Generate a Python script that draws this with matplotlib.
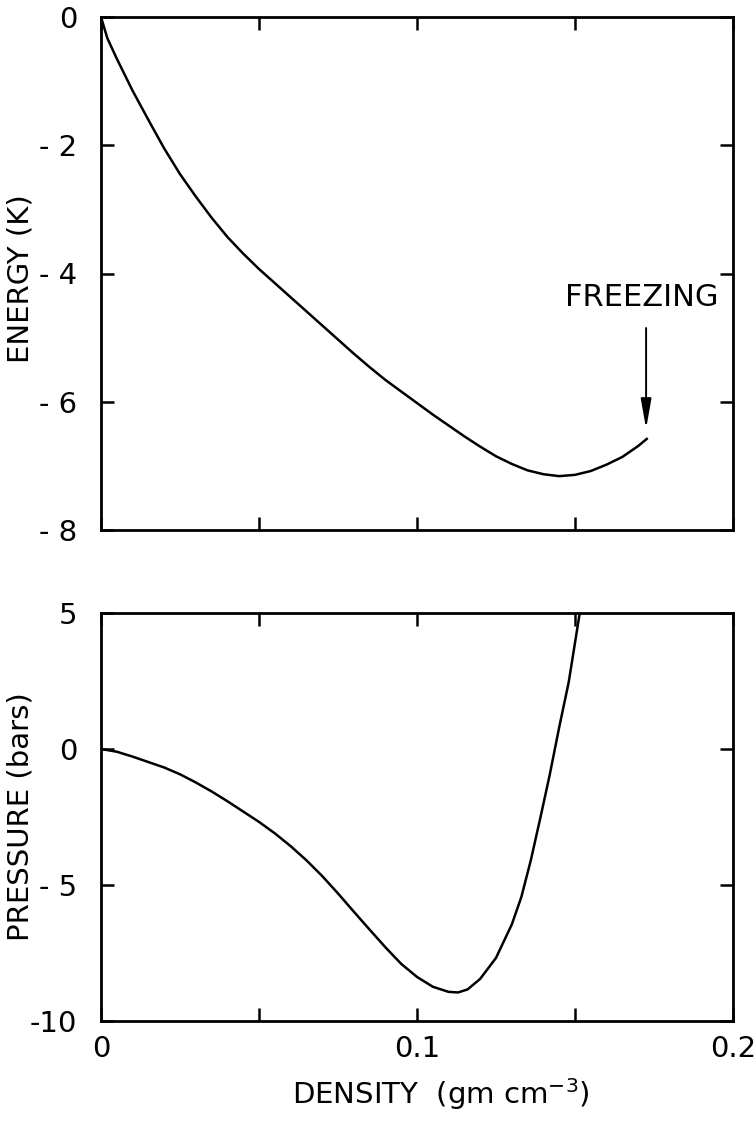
import matplotlib
matplotlib.use("Agg")
import matplotlib.pyplot as plt

plt.rcParams['font.family'] = ['DejaVu Sans']
plt.rcParams['mathtext.default'] = 'regular'

# Energy vs density
rho_E = [0.0, 0.002, 0.005, 0.010, 0.0155, 0.020, 0.025, 0.030, 0.035, 0.040,
         0.045, 0.050, 0.055, 0.060, 0.065, 0.070, 0.075, 0.080, 0.085, 0.090,
         0.095, 0.100, 0.105, 0.110, 0.115, 0.120, 0.125, 0.130, 0.135, 0.140,
         0.145, 0.150, 0.155, 0.160, 0.165, 0.170, 0.1727]
E = [0.0, -0.33, -0.65, -1.15, -1.65, -2.05, -2.45, -2.80, -3.13, -3.43,
     -3.69, -3.93, -4.15, -4.37, -4.59, -4.81, -5.03, -5.25, -5.46, -5.66,
     -5.84, -6.02, -6.20, -6.37, -6.54, -6.70, -6.85, -6.97, -7.07, -7.13,
     -7.16, -7.14, -7.08, -6.98, -6.86, -6.69, -6.58]

# Pressure vs density
rho_P = [0.0, 0.005, 0.010, 0.015, 0.020, 0.025, 0.030, 0.035, 0.040, 0.045,
         0.050, 0.055, 0.060, 0.065, 0.070, 0.075, 0.080, 0.085, 0.090, 0.095,
         0.100, 0.105, 0.110, 0.113, 0.116, 0.120, 0.125, 0.130, 0.133, 0.136,
         0.139, 0.142, 0.145, 0.148, 0.1515]
P = [0.0, -0.10, -0.28, -0.48, -0.68, -0.93, -1.23, -1.56, -1.92, -2.30,
     -2.68, -3.10, -3.57, -4.09, -4.67, -5.31, -5.98, -6.64, -7.29, -7.90,
     -8.38, -8.74, -8.93, -8.95, -8.84, -8.45, -7.68, -6.45, -5.45, -4.10,
     -2.55, -0.95, 0.80, 2.45, 5.0]

x_ticks = [0, 0.05, 0.1, 0.15, 0.2]
x_ticklabels = ['0', '', '0.1', '', '0.2']
E_ticks = [0, -2, -4, -6, -8]
E_ticklabels = ['0', '- 2', '- 4', '- 6', '- 8']
P_ticks = [5, 0, -5, -10]
P_ticklabels = ['5', '0', '- 5', '-10']

freeze_rho = 0.1725
freeze_label = 'FREEZING'

fig = plt.figure(figsize=(7.56, 11.21), dpi=100)
W, H = 756, 1121
def rect(l, t, r, b):
    return [l / W, 1 - b / H, (r - l) / W, (b - t) / H]

ax1 = fig.add_axes(rect(101, 17, 733, 530))
ax2 = fig.add_axes(rect(101, 613, 733, 1021))

fs = 21
for ax in (ax1, ax2):
    for s in ax.spines.values():
        s.set_linewidth(2.0)
    ax.tick_params(direction='in', length=9.5, width=1.8, top=True, right=True,
                   labelsize=fs)
    ax.tick_params(axis='y', pad=17)
    ax.tick_params(axis='x', pad=10)
    ax.set_xlim(0, 0.2)
    ax.set_xticks(x_ticks)

ax1.plot(rho_E, E, color='black', lw=1.8, solid_joinstyle='round')
ax1.set_ylim(-8, 0)
ax1.set_yticks(E_ticks)
ax1.set_yticklabels(E_ticklabels)
ax1.set_xticklabels([])
ax1.set_ylabel('ENERGY (K)', fontsize=fs)
ax1.yaxis.label.set_verticalalignment('center')
ax1.yaxis.set_label_coords(-0.127, 0.49)
ax1.annotate('', xy=(freeze_rho, -6.42), xytext=(freeze_rho, -4.85),
             arrowprops=dict(arrowstyle='-|>,head_length=0.9,head_width=0.16',
                             color='black', lw=1.4,
                             mutation_scale=20, shrinkA=0, shrinkB=0))
ax1.text(0.1712, -4.38, freeze_label, ha='center', va='center', fontsize=22)

ax2.plot(rho_P, P, color='black', lw=1.8, solid_joinstyle='round')
ax2.set_ylim(-10, 5)
ax2.set_yticks(P_ticks)
ax2.set_yticklabels(P_ticklabels)
ax2.set_xticklabels(x_ticklabels)
ax2.set_ylabel('PRESSURE (bars)', fontsize=fs)
ax2.yaxis.label.set_verticalalignment('center')
ax2.yaxis.set_label_coords(-0.127, 0.5)
ax2.set_xlabel('DENSITY  (gm cm$^{-3}$)', fontsize=fs)
ax2.xaxis.set_label_coords(0.538, -0.135)

fig.savefig('out.png', dpi=100)
